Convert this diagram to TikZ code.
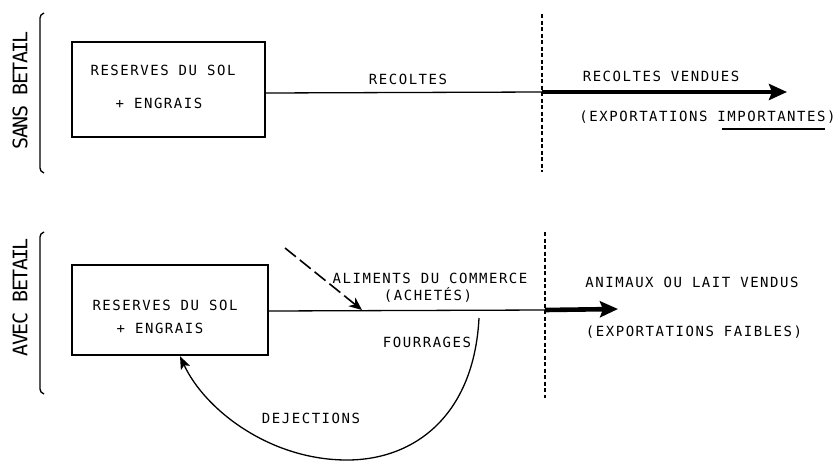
\documentclass[tikz,border=0pt]{standalone}
\usepackage{fontspec}
\usetikzlibrary{arrows.meta}
\newfontfamily\monof[LetterSpace=11]{DejaVu Sans Mono}
\newfontfamily\sidef[LetterSpace=-8]{DejaVu Sans Mono}
\tikzset{
  lbl/.style={inner sep=0pt, font=\monof\fontsize{14}{16}\selectfont},
  side/.style={inner sep=0pt, rotate=90, font=\sidef\fontsize{20}{22}\selectfont},
  stockbox/.style={draw, line width=2.3pt, inner sep=0pt},
  flow/.style={line width=1.3pt},
  export/.style={line width=4.6pt, -{Stealth[length=18pt,width=16pt,inset=3pt]}},
  divider/.style={line width=1.2pt, dash pattern=on 4pt off 2.5pt},
  brack/.style={line width=1.3pt},
}
\begin{document}
\begin{tikzpicture}[x=1pt,y=-1pt]
\useasboundingbox (0,0) rectangle (840,461);

% ---------- SANS BETAIL ----------
\draw[brack] (44,13) -- (41,15) -- (40,18) -- (40,168) -- (41,171) -- (44,173);
\node[side] (sans) at (20,90) {SANS BETAIL};

\node[stockbox, minimum width=193pt, minimum height=95pt] (box1) at (168.5,89.5) {};
\node[lbl] (r1) at (163,70) {RESERVES DU SOL};
\node[lbl] (e1) at (159,103) {+ ENGRAIS};

\coordinate (b1out) at (box1.east |- 0,93);
\coordinate (d1) at (542,92);
\coordinate (a1end) at (787,92);
\draw[flow] (b1out) -- (d1);
\draw[export] (d1) -- (a1end);
\node[lbl] (recoltes) at (408,79) {RECOLTES};

\coordinate (v1top) at (542,14);
\coordinate (v1bot) at (542,172);
\draw[divider] (v1top) -- (v1bot);

\node[lbl] (rv) at (661,76) {RECOLTES VENDUES};
\node[lbl] (expi) at (707.5,117) {(EXPORTATIONS IMPORTANTES)};
\coordinate (ul1) at (722,129);
\coordinate (ul2) at (825,129);
\draw[line width=2pt] (ul1) -- (ul2);

% ---------- AVEC BETAIL ----------
\draw[brack] (44,232) -- (41,234) -- (40,237) -- (40,389) -- (41,392) -- (44,394);
\node[side] (avec) at (20,297) {AVEC BETAIL};

\node[stockbox, minimum width=196pt, minimum height=90pt] (box2) at (170,310) {};
\node[lbl] (r2) at (165,305) {RESERVES DU SOL};
\node[lbl] (e2) at (160,328) {+ ENGRAIS};

\coordinate (b2out) at (box2.east |- 0,311);
\coordinate (d2) at (545,310);
\coordinate (a2end) at (618,309);
\draw[flow] (b2out) -- (d2);
\draw[export] (d2) -- (a2end);

\coordinate (v2top) at (545,232);
\coordinate (v2bot) at (545,398);
\draw[divider] (v2top) -- (v2bot);

\node[lbl] (alim) at (430,278) {ALIMENTS DU COMMERCE};
\node[lbl] (achetes) at (428,295) {(ACHETÉS)};
\node[lbl] (fourr) at (427,342) {FOURRAGES};
\node[lbl] (dej) at (311,418) {DEJECTIONS};

\node[lbl] (anim) at (692,282) {ANIMAUX OU LAIT VENDUS};
\node[lbl] (expf) at (694,332) {(EXPORTATIONS FAIBLES)};

% purchased feed (dashed arrow)
\coordinate (feedstart) at (285,248);
\coordinate (feedend) at (362,310);
\draw[line width=1.6pt, dash pattern=on 14pt off 5pt, -{Stealth[length=13pt,width=11pt,inset=4pt]}] (feedstart) -- (feedend);

% fodder / manure loop
\coordinate (loopstart) at (479,318);
\coordinate (loopbot) at (347,460);
\draw[flow, -{Stealth[length=13pt,width=10pt,inset=3pt]}]
  (loopstart) .. controls (474,415) and (415,460) .. (loopbot)
  .. controls (270,460) and (205,410) .. (box2.south west -| 180,0) ;
\end{tikzpicture}
\end{document}
